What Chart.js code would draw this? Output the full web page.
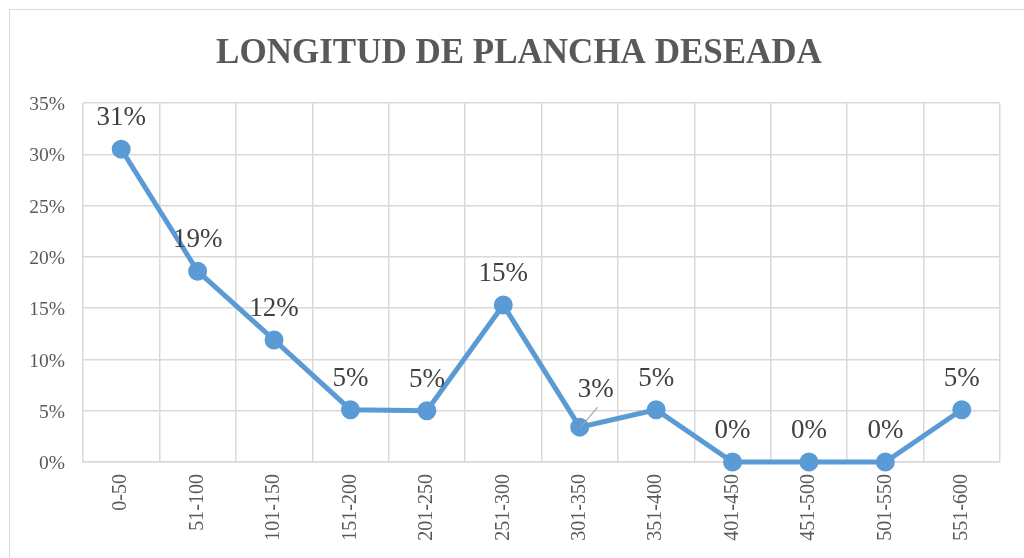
<!DOCTYPE html>
<html>
<head>
<meta charset="utf-8">
<script src="https://cdn.jsdelivr.net/npm/chart.js@4.4.1/dist/chart.umd.min.js"></script>
<style>
  html, body { margin: 0; padding: 0; background: #ffffff; overflow: hidden; }
  #wrap { position: relative; width: 1024px; height: 558px; }
  #frame { position: absolute; left: 9px; top: 9px; width: 1030px; height: 570px; border: 1.5px solid #d9d9d9; box-sizing: border-box; }
  canvas { position: absolute; left: 0; top: 0; }
</style>
</head>
<body>
<div id="wrap">
  <div id="frame"></div>
  <canvas id="c" width="1024" height="558"></canvas>
</div>
<script>
const chartTitle = 'LONGITUD DE PLANCHA DESEADA';
const categories = ['0-50', '51-100', '101-150', '151-200', '201-250', '251-300', '301-350', '351-400', '401-450', '451-500', '501-550', '551-600'];
const values = [30.5, 18.6, 11.9, 5.1, 5.0, 15.3, 3.4, 5.1, 0, 0, 0, 5.1];
const dataLabels = ['31%', '19%', '12%', '5%', '5%', '15%', '3%', '5%', '0%', '0%', '0%', '5%'];
const yTicks = [0, 5, 10, 15, 20, 25, 30, 35];

const serif = '"Liberation Serif", "Times New Roman", serif';

const textPlugin = {
  id: 'textLayer',
  afterDatasetsDraw(chart) {
    const ctx = chart.ctx;
    const meta = chart.getDatasetMeta(0);
    ctx.save();
    // title
    ctx.font = 'bold 35px ' + serif;
    ctx.fillStyle = '#595959';
    ctx.textAlign = 'center';
    ctx.textBaseline = 'middle';
    ctx.fillText(chartTitle, 519, 54);
    // data labels
    ctx.font = '27px ' + serif;
    ctx.fillStyle = '#404040';
    meta.data.forEach((pt, i) => {
      let x = pt.x, y = pt.y - 31;
      if (i === 6) {
        x = pt.x + 16; y = pt.y - 37;
        ctx.strokeStyle = '#a6a6a6';
        ctx.lineWidth = 1.2;
        ctx.beginPath();
        ctx.moveTo(pt.x + 1, pt.y);
        ctx.lineTo(pt.x + 18, pt.y - 20);
        ctx.stroke();
      }
      ctx.fillText(dataLabels[i], x, y);
    });
    ctx.restore();
  }
};

new Chart(document.getElementById('c'), {
  type: 'line',
  data: {
    labels: categories,
    datasets: [{
      data: values,
      borderColor: '#5b9bd5',
      backgroundColor: '#5b9bd5',
      borderWidth: 5,
      pointRadius: 7,
      pointBackgroundColor: '#5b9bd5',
      pointBorderColor: '#5b9bd5',
      tension: 0,
      clip: false
    }]
  },
  options: {
    responsive: false,
    animation: false,
    layout: { padding: { left: 20, right: 24, top: 103, bottom: 0 } },
    plugins: {
      legend: { display: false },
      tooltip: { enabled: false },
      title: { display: false }
    },
    scales: {
      x: {
        offset: true,
        grid: { color: '#d9d9d9', lineWidth: 1.5, drawTicks: false, offset: true },
        border: { color: '#d9d9d9', width: 1.5 },
        ticks: {
          color: '#595959',
          font: { family: serif, size: 20 },
          maxRotation: 90, minRotation: 90,
          padding: 12,
          autoSkip: false
        },
        afterFit(scale) { scale.height = 96; }
      },
      y: {
        min: 0, max: 35,
        grid: { color: '#d9d9d9', lineWidth: 1.5, drawTicks: false },
        border: { display: false },
        afterBuildTicks(scale) { scale.ticks = yTicks.map(v => ({ value: v })); },
        ticks: {
          color: '#595959',
          font: { family: serif, size: 19.5 },
          padding: 18,
          labelOffset: 2,
          callback: v => v + '%'
        },
        afterFit(scale) { scale.width = 63; }
      }
    }
  },
  plugins: [textPlugin]
});
</script>
</body>
</html>
